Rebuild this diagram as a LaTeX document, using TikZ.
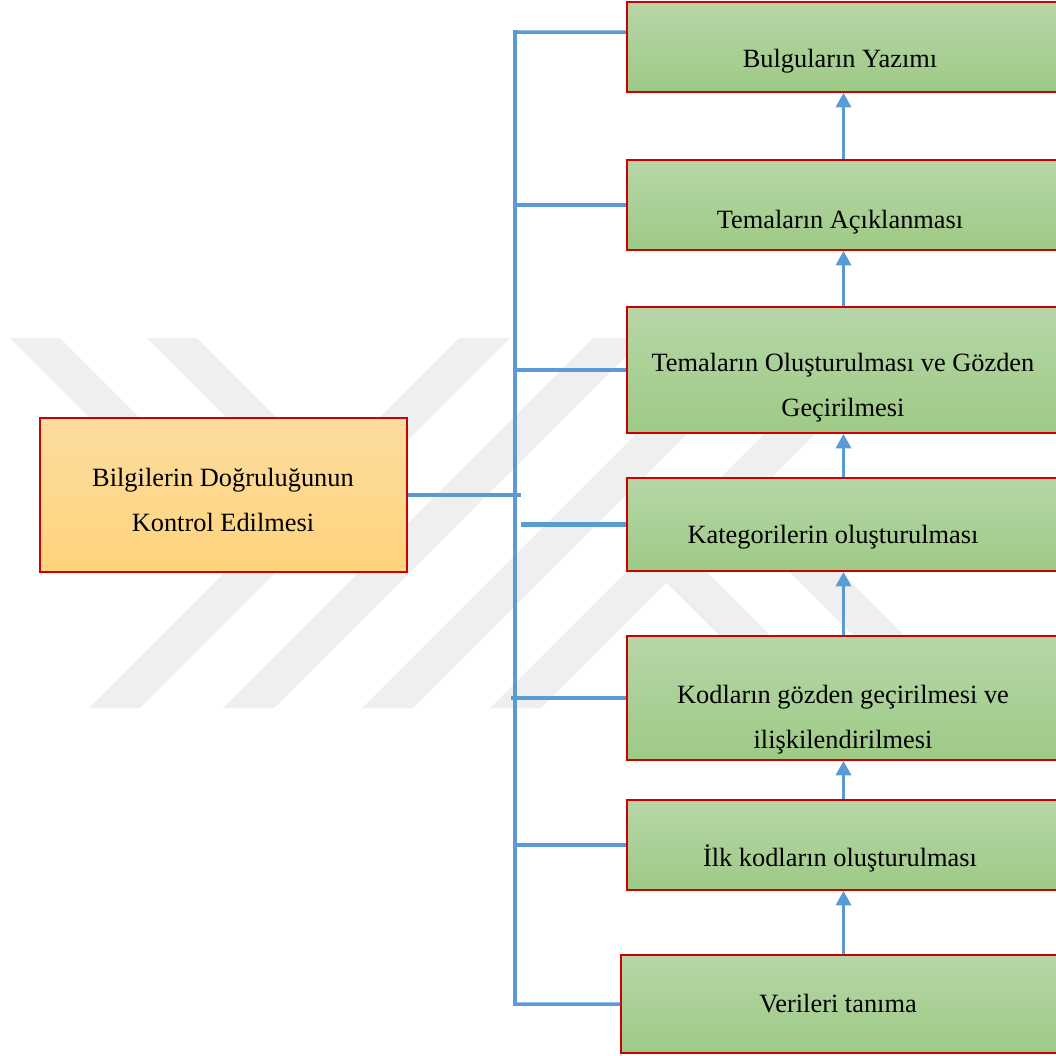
\documentclass[tikz,border=0pt]{standalone}
\usepackage{fontspec}
\setmainfont{Liberation Serif}
\usepackage{tikz}
\usetikzlibrary{arrows.meta,positioning,fit,calc}
\definecolor{boxred}{RGB}{204,0,0}
\definecolor{greentop}{RGB}{183,214,168}
\definecolor{greenbot}{RGB}{158,202,133}
\definecolor{orangetop}{RGB}{253,221,158}
\definecolor{orangebot}{RGB}{254,211,125}
\definecolor{lineblue}{RGB}{91,155,213}
\definecolor{wmgray}{RGB}{239,239,239}
\begin{document}
\begin{tikzpicture}[x=0.455pt,y=-0.455pt,
  greenbox/.style={draw=boxred,line width=0.9pt,top color=greentop,bottom color=greenbot,inner sep=0pt},
  orangebox/.style={draw=boxred,line width=0.9pt,top color=orangetop,bottom color=orangebot,inner sep=0pt},
  boxtext/.style={font=\fontsize{12}{20.5}\selectfont,align=center,inner sep=0pt},
  bus/.style={draw=lineblue,line width=1.6pt},
  branch/.style={draw=lineblue,line width=1.9pt},
  flow/.style={draw=lineblue,line width=0.95pt,-{Triangle[width=7pt,length=6.5pt]}}]
\useasboundingbox (0,0) rectangle (1056,1056);

% watermark stripes
\fill[wmgray] (10,338) -- (60,338) -- (259.5,537.5) -- (234.5,562.5) -- cycle;
\fill[wmgray] (147,338) -- (197,338) -- (328,469) -- (303,494) -- cycle;
\fill[wmgray] (459,338) -- (510,338) -- (140,708) -- (89,708) -- cycle;
\fill[wmgray] (593,338) -- (644,338) -- (274,708) -- (223,708) -- cycle;
\fill[wmgray] (732,338) -- (783,338) -- (413,708) -- (362,708) -- cycle;
\fill[wmgray] (860,338) -- (911,338) -- (541,708) -- (490,708) -- cycle;
\fill[wmgray] (647,563) -- (672.5,537.5) -- (843,708) -- (792,708) -- cycle;
\fill[wmgray] (714,496) -- (739.5,470.5) -- (977,708) -- (926,708) -- cycle;

% boxes
\node[orangebox,fit={(40,418)(407,572)}] (ob) {};
\node[greenbox,fit={(627,2)(1060,92)}] (b1) {};
\node[greenbox,fit={(627,160)(1060,250)}] (b2) {};
\node[greenbox,fit={(627,307)(1060,433)}] (b3) {};
\node[greenbox,fit={(627,478)(1060,571)}] (b4) {};
\node[greenbox,fit={(627,636)(1060,760)}] (b5) {};
\node[greenbox,fit={(627,800)(1060,890)}] (b6) {};
\node[greenbox,fit={(621,955)(1060,1053)}] (b7) {};

\node[boxtext] (ot) at (223,500) {Bilgilerin Doğruluğunun\\Kontrol Edilmesi};
\node[boxtext] (t1) at (840,61) {Bulguların Yazımı};
\node[boxtext] (t2) at (840,222) {Temaların Açıklanması};
\node[boxtext] (t3) at (843,388) {Temaların Oluşturulması ve Gözden\\Geçirilmesi};
\node[boxtext] (t4) at (833,537) {Kategorilerin oluşturulması};
\node[boxtext] (t5) at (843,720) {Kodların gözden geçirilmesi ve\\ilişkilendirilmesi};
\node[boxtext] (t6) at (840,858) {İlk kodların oluşturulması};
\node[boxtext] (t7) at (838,1004) {Verileri tanıma};

% bus and branches
\coordinate (bustop) at (515,32);
\draw[bus] ([yshift=6.8pt]b1.west) -- (bustop) -- (bustop |- b7.west) -- (b7.west);
\draw[branch] (b2.west) -- (bustop |- b2.west);
\draw[branch] (b3.west) -- (bustop |- b3.west);
\draw[branch] (b4.west) -- ([xshift=2.7pt]bustop |- b4.west);
\draw[branch] (b5.west) -- ([xshift=-1.8pt]bustop |- b5.west);
\draw[branch] (b6.west) -- (bustop |- b6.west);
\draw[branch] (ob.east) -- ([xshift=2.7pt]bustop |- ob.east);

% steps
\draw[flow] (b2.north) -- (b1.south);
\draw[flow] (b3.north) -- (b2.south);
\draw[flow] (b4.north) -- (b3.south);
\draw[flow] (b5.north) -- (b4.south);
\draw[flow] (b6.north) -- (b5.south);
\draw[flow] (b7.north -| b6.south) -- (b6.south);
\end{tikzpicture}
\end{document}
